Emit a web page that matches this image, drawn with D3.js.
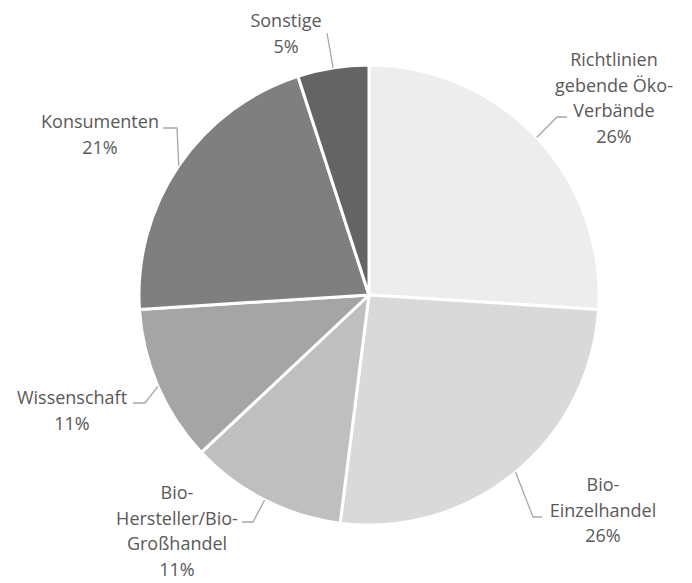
<!DOCTYPE html>
<html>
<head>
<meta charset="utf-8">
<script src="https://cdn.jsdelivr.net/npm/d3@7"></script>
<style>
  body { margin: 0; background: #fff; }
  text { font-family: "Open Sans", sans-serif; font-size: 18px; fill: #595959; }
</style>
</head>
<body>
<div id="chart"></div>
<script>
// Data
var categories = ["Richtlinien gebende Öko-Verbände", "Bio-Einzelhandel", "Bio-Hersteller/Bio-Großhandel", "Wissenschaft", "Konsumenten", "Sonstige"];
var shares = [26, 26, 11, 11, 21, 5];
var labelLines = [
  ["Richtlinien", "gebende Öko-", "Verbände", "26%"],
  ["Bio-", "Einzelhandel", "26%"],
  ["Bio-", "Hersteller/Bio-", "Großhandel", "11%"],
  ["Wissenschaft", "11%"],
  ["Konsumenten", "21%"],
  ["Sonstige", "5%"]
];

var colors = ["#ededed", "#d9d9d9", "#bfbfbf", "#a6a5a6", "#7f7f7f", "#646464"];

// label placement: text centre x, first line centre y, leader elbow and end
var layout = [
  {x: 614, y: 60, elbow: [557, 117], end: [567, 117]},
  {x: 603, y: 485, elbow: [533, 517], end: [542, 517]},
  {x: 177, y: 493, elbow: [253, 522], end: [242, 522]},
  {x: 72, y: 398, elbow: [145, 403], end: [133, 403]},
  {x: 100, y: 122, elbow: [177, 128], end: [163, 128]},
  {x: 286, y: 21, elbow: null, end: [327, 33]}
];

var width = 692, height = 583;
var cx = 369, cy = 295, radius = 230;
var lineHeight = 25.5;

var svg = d3.select("#chart")
  .append("svg")
    .attr("width", width)
    .attr("height", height);

var pie = d3.pie().sort(null).value(function(d) { return d; });
var arc = d3.arc().innerRadius(0).outerRadius(radius);

var arcs = pie(shares);

var g = svg.append("g")
  .attr("transform", "translate(" + cx + "," + cy + ")");

g.selectAll("path")
  .data(arcs)
  .enter()
  .append("path")
    .attr("d", arc)
    .attr("fill", function(d, i) { return colors[i]; })
    .attr("stroke", "#fff")
    .attr("stroke-width", 3)
    .attr("stroke-linejoin", "round");

// Leader lines from the slice edge (mid angle) to the label
svg.selectAll(".leader")
  .data(arcs)
  .enter()
  .append("polyline")
    .attr("class", "leader")
    .attr("fill", "none")
    .attr("stroke", "#a6a6a6")
    .attr("stroke-width", 1.3)
    .attr("points", function(d, i) {
      var a = (d.startAngle + d.endAngle) / 2;
      var p0 = [cx + radius * Math.sin(a), cy - radius * Math.cos(a)];
      var pts = [p0];
      if (layout[i].elbow) pts.push(layout[i].elbow);
      pts.push(layout[i].end);
      return pts.map(function(p) { return p.join(","); }).join(" ");
    });

// Labels
var labels = svg.selectAll(".label")
  .data(arcs)
  .enter()
  .append("text")
    .attr("class", "label")
    .attr("text-anchor", "middle");

labels.each(function(d, i) {
  var t = d3.select(this);
  labelLines[i].forEach(function(line, j) {
    t.append("tspan")
      .attr("x", layout[i].x)
      .attr("y", layout[i].y + j * lineHeight)
      .attr("dy", "0.35em")
      .text(line);
  });
});
</script>
</body>
</html>
